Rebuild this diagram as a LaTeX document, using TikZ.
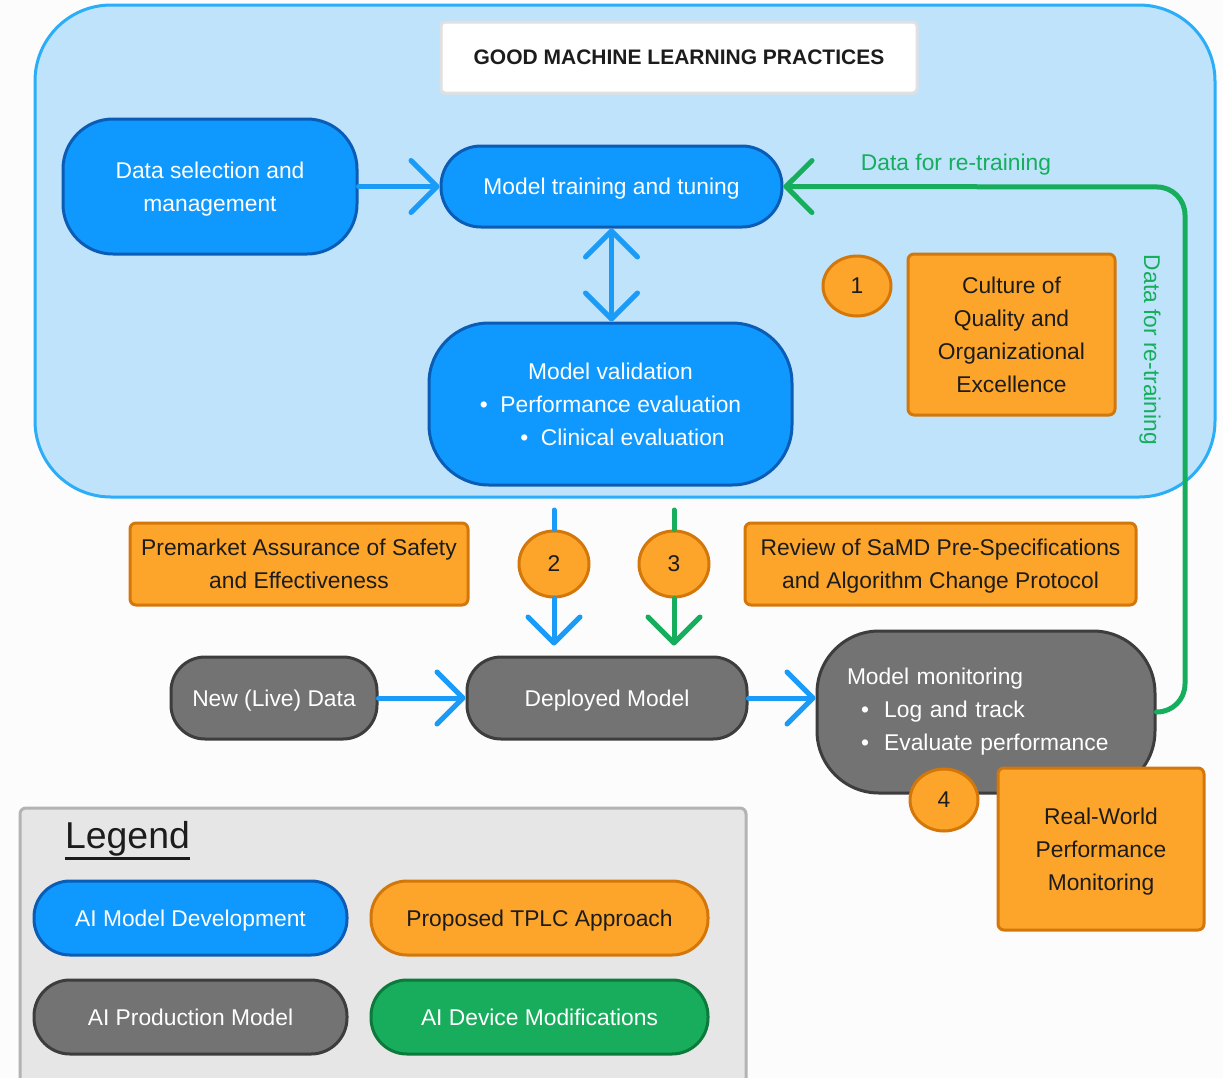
\documentclass[tikz,border=0pt]{standalone}
\usepackage{fontspec}
\setmainfont{Liberation Sans}
\usetikzlibrary{positioning,arrows.meta,shapes.geometric}
\definecolor{bgc}{HTML}{FCFCFD}
\definecolor{panfill}{HTML}{BFE3FB}
\definecolor{panline}{HTML}{2BADF7}
\definecolor{devfill}{HTML}{0F99FE}
\definecolor{devline}{HTML}{0B5CB5}
\definecolor{prodfill}{HTML}{737373}
\definecolor{prodline}{HTML}{3D3D3D}
\definecolor{tplcfill}{HTML}{FCA52A}
\definecolor{tplcline}{HTML}{D4770A}
\definecolor{modfill}{HTML}{17AD5C}
\definecolor{modline}{HTML}{0B7A3A}
\definecolor{blu}{HTML}{1A9BF7}
\definecolor{grn}{HTML}{16AD5C}
\definecolor{ink}{HTML}{1C1C1C}
\definecolor{legfill}{HTML}{E6E6E6}
\definecolor{legline}{HTML}{B3B3B3}
\newcommand\fs{\fontsize{11.4}{16.5}\selectfont}

\begin{document}
\begin{tikzpicture}[x=0.5pt,y=-0.5pt,>={Straight Barb[length=13pt,width=26pt,round]},
  box/.style={draw,line width=1.5pt,align=center,font=\fs,inner sep=0pt,text depth=0pt},
  dev/.style={box,fill=devfill,draw=devline,text=white},
  prod/.style={box,fill=prodfill,draw=prodline,text=white},
  tplc/.style={box,fill=tplcfill,draw=tplcline,text=ink,rounded corners=3pt},
  mods/.style={box,fill=modfill,draw=modline,text=white},
  num/.style={ellipse,draw=tplcline,fill=tplcfill,line width=1.5pt,minimum width=34pt,minimum height=30pt,font=\fs,text=ink,inner sep=0pt},
  key/.style={minimum width=156.5pt,minimum height=37pt,rounded corners=18pt},
  flow/.style={->,line width=2.5pt,line cap=round,line join=round}]
\useasboundingbox (0,0) rectangle (1223,1078);
\fill[bgc] (0,0) rectangle (1223,1078);
% GMLP panel
\draw[fill=panfill,draw=panline,line width=1.5pt,rounded corners=38pt] (35,5) rectangle (1215,497);
\node[draw=black!12,fill=white,line width=1.5pt,rounded corners=2pt,minimum width=238pt,minimum height=35.5pt,
  font=\bfseries\fontsize{10.5}{12}\selectfont,text=ink,text depth=0pt] (ttl) at (679,57.5) {GOOD MACHINE LEARNING PRACTICES};
\node[dev,minimum width=147pt,minimum height=67.5pt,rounded corners=25pt] (dsel) at (210,186.5) {Data selection and\\management};
\node[dev,minimum width=170.5pt,minimum height=40.5pt,rounded corners=20pt,right=40.5pt of dsel] (train) {Model training and tuning};
\node[dev,minimum width=181.5pt,minimum height=81pt,rounded corners=30pt] (valid) at (610.5,404)
  {Model validation\\\textbullet\ \ Performance evaluation\\\hspace*{12pt}\textbullet\ \ Clinical evaluation};
\node[num] (one) at (857,286) {1};
\node[tplc,minimum width=103.5pt,minimum height=80.5pt] (cult) at (1011.5,334.5) {Culture of\\Quality and\\Organizational\\Excellence};
% TPLC row
\node[tplc,minimum width=169pt,minimum height=41pt] (prem) at (299,564) {Premarket Assurance of Safety\\and Effectiveness};
\node[num,minimum width=35pt,minimum height=33pt] (two) at (554,564) {2};
\node[num,minimum width=35pt,minimum height=33pt] (three) at (674,564) {3};
\node[tplc,minimum width=195.5pt,minimum height=41pt] (rev) at (940.5,564) {Review of SaMD Pre-Specifications\\and Algorithm Change Protocol};
% production
\node[prod,minimum width=103pt,minimum height=41pt,rounded corners=17pt] (live) at (274,698) {New (Live) Data};
\node[prod,minimum width=140pt,minimum height=41pt,rounded corners=17pt] (depl) at (607,698) {Deployed Model};
\node[draw=prodline,fill=prodfill,text=white,line width=1.5pt,font=\fs,minimum height=81pt,rounded corners=31pt,
  text width=139pt,inner xsep=15pt,inner ysep=0pt,align=left] (mon) at (986,712)
  {Model monitoring\\\hspace*{7pt}\textbullet\ \ Log and track\\\hspace*{7pt}\textbullet\ \ Evaluate performance};
\node[num,minimum width=34pt,minimum height=31pt] (four) at (944,800) {4};
\node[tplc,minimum width=103pt,minimum height=81pt] (rwpm) at (1101,849) {Real-World\\Performance\\Monitoring};
\coordinate (s2) at (554,510);
\coordinate (s3) at (674,510);
\coordinate (rt) at (1185,187);
\draw[flow,blu] (dsel) -- (train);
\draw[flow,blu,<->] (train.south) -- (train.south |- valid.north);
\draw[flow,blu,-] (s2) -- (two.north);
\draw[flow,blu,shorten >=5pt] (two.south) -- (two.south |- depl.north);
\draw[flow,grn,-] (s3) -- (three.north);
\draw[flow,grn,shorten >=5pt] (three.south) -- (three.south |- depl.north);
\draw[flow,blu] (live) -- (depl);
\draw[flow,blu] (depl.east) -- (mon.west |- depl.east);
\draw[flow,grn,rounded corners=14pt] (mon.east) -| (rt) -- (train.east);
\node[text=grn,font=\fs] (lbl) at (956,165) {Data for re-training};
\node[text=grn,font=\fs,rotate=-90] (vlbl) at (1150,350) {Data for re-training};
% legend
\draw[fill=legfill,draw=legline,line width=1.5pt,rounded corners=3pt] (20,808) rectangle (746,1095);
\node[font=\fontsize{18.7}{22}\selectfont,text=ink,inner sep=0pt] (lgd) at (127.5,839) {Legend};
\draw[ink,line width=1.8pt] ([yshift=-5pt]lgd.base west) -- ([yshift=-5pt]lgd.base east);
\node[dev,key] (kdev) at (190.5,918) {AI Model Development};
\node[tplc,key,minimum width=168.5pt,rounded corners=18pt] (ktplc) at (539.5,918) {Proposed TPLC Approach};
\node[prod,key] (kprod) at (190.5,1017) {AI Production Model};
\node[mods,key,minimum width=168.5pt] (kmod) at (539.5,1017) {AI Device Modifications};
\end{tikzpicture}
\end{document}
